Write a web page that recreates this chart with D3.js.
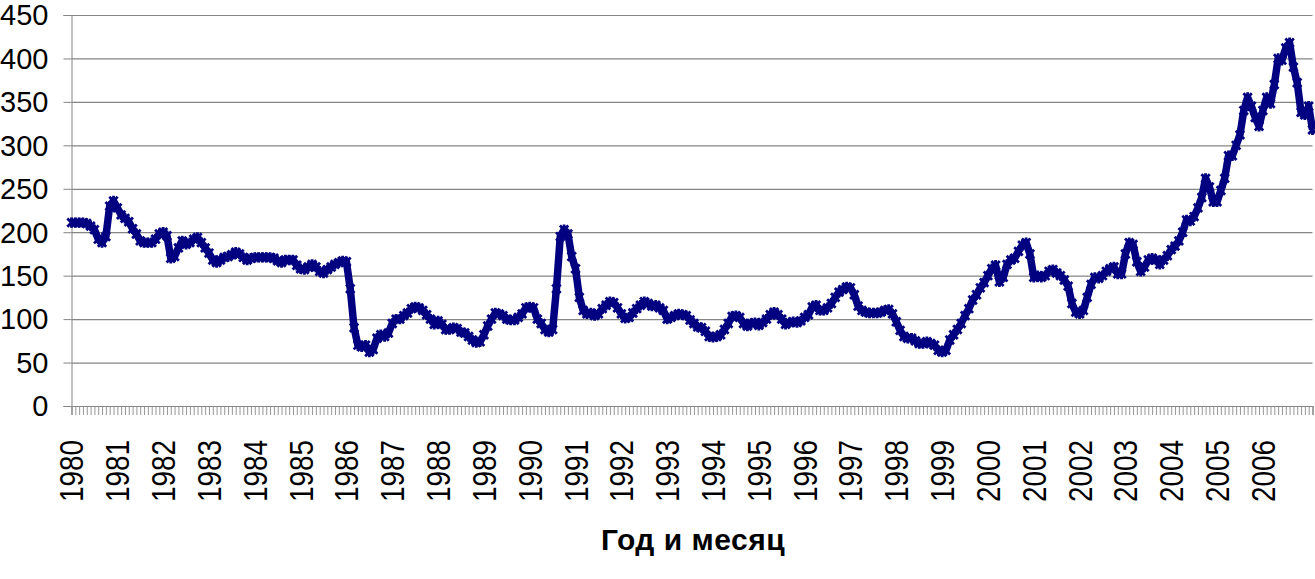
<!DOCTYPE html>
<html>
<head>
<meta charset="utf-8">
<script src="https://cdn.jsdelivr.net/npm/d3@7"></script>
<style>
  body { margin: 0; background: #fff; }
  text { font-family: "Liberation Sans", Arial, sans-serif; fill: #000; }
</style>
</head>
<body>
<svg id="chart"></svg>
<script>
// monthly values, Jan 1980 .. Feb 2007
const v1980 = [211, 211, 211, 211, 210, 207, 203, 192, 188, 195, 230, 236];
const v1981 = [228, 220, 216, 212, 204, 198, 190, 188, 188, 188, 192, 198];
const v1982 = [200, 196, 170, 172, 182, 190, 186, 188, 192, 194, 188, 182];
const v1983 = [176, 168, 165, 168, 171, 172, 174, 177, 175, 171, 168, 170];
const v1984 = [171, 171, 171, 171, 171, 170, 167, 165, 168, 168, 168, 162];
const v1985 = [158, 157, 160, 163, 160, 155, 153, 157, 160, 163, 165, 167];
const v1986 = [166, 135, 90, 70, 68, 70, 62, 65, 78, 82, 80, 84];
const v1987 = [95, 100, 100, 104, 107, 112, 114, 113, 110, 105, 100, 94];
const v1988 = [98, 94, 88, 88, 90, 89, 85, 84, 80, 76, 73, 74];
const v1989 = [82, 92, 100, 107, 106, 104, 100, 99, 99, 102, 106, 113];
const v1990 = [114, 113, 100, 95, 88, 85, 88, 135, 195, 203, 198, 172];
const v1991 = [158, 125, 110, 106, 107, 104, 106, 112, 116, 120, 119, 113];
const v1992 = [106, 101, 102, 107, 112, 116, 120, 118, 115, 116, 113, 110];
const v1993 = [100, 102, 104, 106, 105, 104, 99, 95, 91, 90, 86, 80];
const v1994 = [79, 80, 82, 88, 95, 103, 104, 102, 95, 92, 95, 96];
const v1995 = [93, 96, 100, 105, 108, 105, 100, 94, 96, 97, 96, 98];
const v1996 = [102, 105, 114, 116, 110, 110, 113, 118, 125, 131, 134, 137];
const v1997 = [136, 128, 115, 110, 108, 107, 107, 107, 108, 110, 111, 106];
const v1998 = [97, 87, 80, 78, 78, 75, 72, 72, 74, 72, 70, 64];
const v1999 = [62, 64, 76, 82, 88, 95, 104, 112, 122, 128, 136, 142];
const v2000 = [150, 158, 162, 143, 148, 163, 168, 170, 178, 185, 188, 175];
const v2001 = [148, 150, 148, 150, 155, 157, 153, 150, 145, 138, 118, 108];
const v2002 = [106, 110, 125, 140, 148, 147, 150, 155, 158, 160, 152, 152];
const v2003 = [175, 188, 186, 166, 155, 160, 168, 170, 168, 163, 168, 173];
const v2004 = [180, 184, 190, 200, 214, 213, 218, 228, 240, 262, 252, 235];
const v2005 = [235, 248, 262, 288, 288, 300, 312, 340, 355, 345, 332, 322];
const v2006 = [340, 355, 348, 370, 400, 398, 412, 418, 390, 372, 338, 335];
const v2007 = [345, 318];

const values = [].concat(v1980, v1981, v1982, v1983, v1984, v1985, v1986, v1987,
  v1988, v1989, v1990, v1991, v1992, v1993, v1994, v1995, v1996, v1997, v1998,
  v1999, v2000, v2001, v2002, v2003, v2004, v2005, v2006, v2007);

const yearLabels = ["1980", "1981", "1982", "1983", "1984", "1985", "1986", "1987",
  "1988", "1989", "1990", "1991", "1992", "1993", "1994", "1995", "1996", "1997",
  "1998", "1999", "2000", "2001", "2002", "2003", "2004", "2005", "2006"];
const yTicks = [0, 50, 100, 150, 200, 250, 300, 350, 400, 450];
const xTitle = "Год и месяц";

const width = 1315, height = 579;
const plotLeft = 71.5, plotRight = 1312.5, plotTop = 15, plotBottom = 406;

const svg = d3.select("#chart")
  .attr("width", width)
  .attr("height", height);

svg.append("rect")
  .attr("width", width)
  .attr("height", height)
  .attr("fill", "#fff");

const x = d3.scaleLinear()
  .domain([0, values.length - 1])
  .range([plotLeft, plotRight]);

const y = d3.scaleLinear()
  .domain([0, 450])
  .range([plotBottom, plotTop]);

// gridlines
svg.append("g")
  .attr("transform", `translate(${plotLeft},0)`)
  .call(d3.axisLeft(y).tickValues(yTicks.slice(1)).tickSize(-(plotRight - plotLeft)).tickFormat(""))
  .call(g => g.select(".domain").remove())
  .call(g => g.selectAll("line").attr("stroke", "#858585").attr("stroke-width", 1.2));

// y axis
svg.append("g")
  .attr("transform", `translate(${plotLeft},0)`)
  .call(d3.axisLeft(y).tickValues(yTicks).tickSize(8).tickPadding(15))
  .call(g => g.select(".domain").attr("stroke", "#858585"))
  .call(g => g.selectAll("line").attr("stroke", "#858585"))
  .call(g => g.selectAll("text")
    .attr("dy", "0.34em")
    .style("font-size", "29px")
    .style("font-family", "'Liberation Sans', Arial, sans-serif"));

// x axis, one tick per month
const monthIdx = d3.range(values.length);
svg.append("g")
  .attr("transform", `translate(0,${plotBottom})`)
  .call(d3.axisBottom(x).tickValues(monthIdx).tickSize(9)
    .tickFormat(i => i % 12 === 0 ? yearLabels[i / 12] || "" : ""))
  .call(g => g.select(".domain").attr("stroke", "#858585").attr("stroke-width", 1.2))
  .call(g => g.selectAll("line").attr("stroke", "#8a8a8a").attr("stroke-width", 0.9))
  .call(g => g.selectAll("text")
    .attr("x", 0)
    .attr("y", 0)
    .attr("dy", null)
    .attr("transform", "translate(0,34) rotate(-90) scale(0.82,1)")
    .attr("dominant-baseline", "central")
    .style("text-anchor", "end")
    .style("font-size", "34px")
    .style("font-family", "'Liberation Sans', Arial, sans-serif"));

// series
const line = d3.line()
  .x((d, i) => x(i))
  .y(d => y(d));

svg.append("path")
  .datum(values)
  .attr("fill", "none")
  .attr("stroke", "#000080")
  .attr("stroke-width", 7.5)
  .attr("stroke-linejoin", "round")
  .attr("d", line);

const m = 4.2;
svg.append("g")
  .selectAll("path")
  .data(values)
  .join("path")
  .attr("fill", "none")
  .attr("stroke", "#000080")
  .attr("stroke-width", 2.8)
  .attr("d", (d, i) => {
    const cx = x(i), cy = y(d);
    return `M${cx - m},${cy - m}L${cx + m},${cy + m}M${cx - m},${cy + m}L${cx + m},${cy - m}M${cx},${cy - m - 1}L${cx},${cy + m + 1}`;
  });

// axis title
svg.append("text")
  .attr("x", 693)
  .attr("y", 550)
  .attr("text-anchor", "middle")
  .style("font-size", "30px")
  .style("font-weight", "bold")
  .style("letter-spacing", "0.5px")
  .text(xTitle);
</script>
</body>
</html>
